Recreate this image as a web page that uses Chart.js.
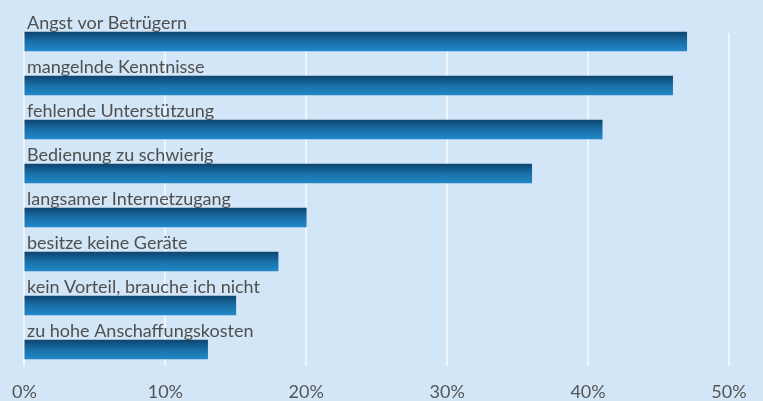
<!DOCTYPE html>
<html>
<head>
<meta charset="utf-8">
<script src="https://cdn.jsdelivr.net/npm/chart.js@4"></script>
<style>
  html, body { margin: 0; padding: 0; background: #d3e6f7; }
  #wrap { width: 763px; height: 401px; }
</style>
</head>
<body>
<div id="wrap"><canvas id="chart"></canvas></div>
<script>
const kategorien = [
  "Angst vor Betrügern",
  "mangelnde Kenntnisse",
  "fehlende Unterstützung",
  "Bedienung zu schwierig",
  "langsamer Internetzugang",
  "besitze keine Geräte",
  "kein Vorteil, brauche ich nicht",
  "zu hohe Anschaffungskosten",
];
const anteile = [47, 46, 41, 36, 20, 18, 15, 13];
const ticks_x = [0, 10, 20, 30, 40, 50];

const BAR_H = 19;

// Hintergrund, Gitterlinien und Beschriftungen über den Balken
const plugin_deko = {
  id: "deko",
  beforeDraw: (chart) => {
    const c = chart.ctx;
    c.save();
    c.fillStyle = "#d3e6f7";
    c.fillRect(0, 0, chart.width, chart.height);
    c.restore();
  },
  beforeDatasetsDraw: (chart) => {
    const c = chart.ctx;
    const x = chart.scales.x;
    c.save();
    c.strokeStyle = "rgba(246, 249, 252, 0.8)";
    c.lineWidth = 2;
    ticks_x.forEach((t) => {
      const px = Math.round(x.getPixelForValue(t));
      c.beginPath();
      c.moveTo(px, 33);
      c.lineTo(px, 366);
      c.stroke();
    });
    c.restore();
  },
  afterDatasetsDraw: (chart) => {
    const c = chart.ctx;
    const y = chart.scales.y;
    c.save();
    c.font = "18px Lato";
    c.fillStyle = "#4f4f4f";
    c.textAlign = "left";
    c.textBaseline = "alphabetic";
    kategorien.forEach((k, i) => {
      const py = y.getPixelForValue(i);
      c.fillText(k, 27, py - BAR_H / 2 - 3.5);
    });
    c.restore();
  },
};

const ctx = document.getElementById("chart").getContext("2d");
new Chart(ctx, {
  type: "bar",
  data: {
    labels: kategorien,
    datasets: [
      {
        data: anteile,
        barThickness: BAR_H,
        borderWidth: 0,
        backgroundColor: (context) => {
          const chart = context.chart;
          if (!chart.chartArea) return "#1a6aa3";
          const py = chart.scales.y.getPixelForValue(context.dataIndex);
          const g = chart.ctx.createLinearGradient(0, py - BAR_H / 2, 0, py + BAR_H / 2);
          g.addColorStop(0, "#0d4670");
          g.addColorStop(0.5, "#1a6ea8");
          g.addColorStop(1, "#2188c8");
          return g;
        },
      },
    ],
  },
  options: {
    indexAxis: "y",
    responsive: true,
    maintainAspectRatio: false,
    animation: false,
    layout: {
      padding: { left: 23, right: 34, top: 19.5, bottom: 0 },
    },
    plugins: {
      legend: { display: false },
      tooltip: { enabled: false },
    },
    scales: {
      x: {
        min: 0,
        max: 50,
        afterBuildTicks: (axis) => {
          axis.ticks = ticks_x.map((v) => ({ value: v }));
        },
        afterFit: (axis) => {
          axis.height = 29.5;
        },
        grid: { display: false, drawTicks: false },
        border: { display: false },
        ticks: {
          padding: 12,
          color: "#555555",
          font: { family: "Lato", size: 18, lineHeight: 1 },
          callback: (v) => v + "%",
          maxRotation: 0,
        },
      },
      y: {
        display: false,
        offset: true,
      },
    },
  },
  plugins: [plugin_deko],
});
</script>
</body>
</html>
